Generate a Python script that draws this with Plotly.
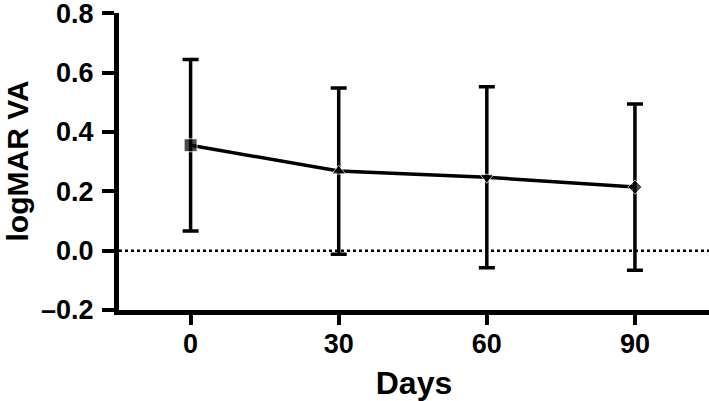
import plotly.graph_objects as go

days = [0, 30, 60, 90]
mean_va = [0.355, 0.268, 0.247, 0.214]
sd_va = [0.289, 0.280, 0.305, 0.280]
symbols = ["square", "triangle-up", "triangle-down", "diamond"]

y_ticks = [-0.2, 0.0, 0.2, 0.4, 0.6, 0.8]
y_tick_text = ["\u20130.2", "0.0", "0.2", "0.4", "0.6", "0.8"]

FONT = "Liberation Sans, Arial, sans-serif"

fig = go.Figure(
    go.Scatter(
        x=days,
        y=mean_va,
        mode="lines+markers",
        line=dict(color="black", width=3.5),
        marker=dict(symbol=symbols, size=[13, 12, 12, 11], color="black"),
        error_y=dict(
            type="data",
            array=sd_va,
            color="black",
            thickness=3.5,
            width=8,
        ),
        showlegend=False,
    )
)

fig.add_shape(
    type="line",
    xref="paper",
    yref="y",
    x0=0,
    x1=1,
    y0=0,
    y1=0,
    line=dict(color="black", width=2.5, dash="dot"),
    layer="below",
)

# y title as annotation so it can sit close to the page edge
fig.add_annotation(
    text="logMAR VA",
    xref="paper",
    yref="paper",
    x=0,
    y=0.5,
    xshift=-102,
    xanchor="center",
    yanchor="middle",
    textangle=-90,
    showarrow=False,
    borderpad=0,
    font=dict(size=30, weight="bold"),
)

fig.update_layout(
    width=709,
    height=401,
    margin=dict(l=119, r=0, t=13, b=91),
    plot_bgcolor="white",
    paper_bgcolor="white",
    font=dict(family=FONT, size=27, color="black", weight="bold"),
)
fig.update_xaxes(
    range=[-14.5, 105],
    tickvals=days,
    showgrid=False,
    zeroline=False,
    showline=True,
    linecolor="black",
    linewidth=5,
    ticks="outside",
    ticklen=10,
    tickwidth=4,
    tickcolor="black",
    ticklabelstandoff=-4,
    automargin=False,
    title=dict(text="Days", standoff=18, font=dict(size=32, weight="bold")),
    tickfont=dict(size=27, weight="bold"),
)
fig.update_yaxes(
    range=[-0.2, 0.8005],
    tickvals=y_ticks,
    ticktext=y_tick_text,
    showgrid=False,
    zeroline=False,
    showline=True,
    linecolor="black",
    linewidth=5,
    ticks="outside",
    ticklen=12,
    tickwidth=4,
    tickcolor="black",
    ticklabelstandoff=3,
    ticklabeloverflow="allow",
    automargin=False,
    tickfont=dict(size=27, weight="bold"),
)

fig.write_html(
    "out.html",
    config={"displayModeBar": False},
    post_script="document.body.style.margin='0';",
)
